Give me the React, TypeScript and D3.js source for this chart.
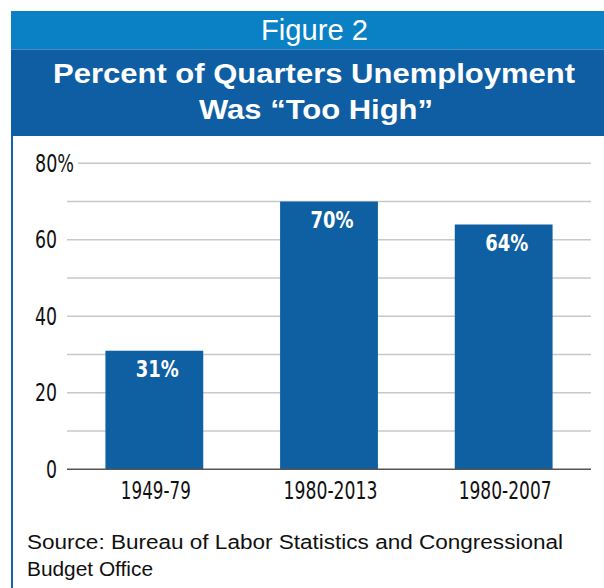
import React from "react";
import * as d3 from "d3";

const categories = ["1949-79", "1980-2013", "1980-2007"];
const values = [31, 70, 64];
const valueLabels = ["31%", "70%", "64%"];
const gridTicks = [0, 10, 20, 30, 40, 50, 60, 70, 80];
const labelTicks = [0, 20, 40, 60, 80];
const titleLines = ["Percent of Quarters Unemployment", "Was \u201CToo High\u201D"];
const figureLabel = "Figure 2";
const sourceLines = ["Source: Bureau of Labor Statistics and Congressional", "Budget Office"];

const W = 604;
const H = 588;
const LIGHT = "#0a80c5";
const DARK = "#0f5ea3";
const BAR = "#0f5fa3";
const NARROW = "'Liberation Sans Narrow', 'DejaVu Sans Condensed', 'Liberation Sans', sans-serif";
const SANS = "'Liberation Sans', Arial, sans-serif";

export default function App() {
  const x = d3
    .scaleBand<string>()
    .domain(categories)
    .range([67, 591])
    .paddingInner(0.44)
    .paddingOuter(0.22);
  const y = d3.scaleLinear().domain([0, 80]).range([469.3, 163.3]);

  const catWidths = [70, 94, 93];

  return (
    <svg
      width={W}
      height={H}
      viewBox={`0 0 ${W} ${H}`}
      style={{ position: "absolute", left: 0, top: 0, background: "#fff" }}
    >
      <rect x={0} y={0} width={W} height={H} fill="#fff" />
      {/* header bands */}
      <rect x={11} y={11} width={W - 11} height={38.5} fill={LIGHT} />
      <rect x={11} y={49.5} width={W - 11} height={86.5} fill={DARK} />
      {/* left border */}
      <rect x={11} y={136} width={2} height={H - 136} fill="#1462a8" />

      <text
        x={314.5}
        y={39.5}
        fill="#fff"
        fontFamily={SANS}
        fontSize={29}
        textAnchor="middle"
        textLength={107}
        lengthAdjust="spacingAndGlyphs"
      >
        {figureLabel}
      </text>
      <text
        x={314}
        y={83}
        fill="#fff"
        fontFamily={SANS}
        fontWeight="bold"
        fontSize={28}
        textAnchor="middle"
        textLength={522}
        lengthAdjust="spacingAndGlyphs"
      >
        {titleLines[0]}
      </text>
      <text
        x={316}
        y={119}
        fill="#fff"
        fontFamily={SANS}
        fontWeight="bold"
        fontSize={28}
        textAnchor="middle"
        textLength={234}
        lengthAdjust="spacingAndGlyphs"
      >
        {titleLines[1]}
      </text>

      {/* gridlines */}
      {gridTicks.map((t) =>
        t === 0 ? null : (
          <line
            key={t}
            x1={t === 80 ? 78 : 67}
            x2={591}
            y1={y(t)}
            y2={y(t)}
            stroke="#c8c8c8"
            strokeWidth={1.4}
          />
        )
      )}

      {/* y labels */}
      {labelTicks.map((t) =>
        t === 80 ? (
          <text
            key={t}
            x={35}
            y={y(t) + 8.5}
            fontFamily={NARROW}
            fontSize={24}
            fill="#111"
            textLength={39}
            lengthAdjust="spacingAndGlyphs"
          >
            {`${t}%`}
          </text>
        ) : (
          <text
            key={t}
            x={57}
            y={y(t) + 8.5}
            fontFamily={NARROW}
            fontSize={24}
            fill="#111"
            textAnchor="end"
            textLength={String(t).length * 11}
            lengthAdjust="spacingAndGlyphs"
          >
            {String(t)}
          </text>
        )
      )}

      {/* bars */}
      {categories.map((c, i) => (
        <rect
          key={c}
          x={x(c)}
          y={y(values[i])}
          width={x.bandwidth()}
          height={y(0) - y(values[i])}
          fill={BAR}
        />
      ))}
      {categories.map((c, i) => (
        <text
          key={c + "-v"}
          x={(x(c) as number) + x.bandwidth() / 2 + 3}
          y={y(values[i]) + 26}
          fill="#fff"
          fontFamily={NARROW}
          fontWeight="bold"
          fontSize={23}
          textAnchor="middle"
          textLength={43}
          lengthAdjust="spacingAndGlyphs"
        >
          {valueLabels[i]}
        </text>
      ))}

      {/* zero axis */}
      <line x1={67} x2={591} y1={y(0)} y2={y(0)} stroke="#555" strokeWidth={1.6} />

      {/* category labels */}
      {categories.map((c, i) => (
        <text
          key={c + "-l"}
          x={(x(c) as number) + x.bandwidth() / 2 + 1.5}
          y={498.5}
          fill="#111"
          fontFamily={NARROW}
          fontSize={24.5}
          textAnchor="middle"
          textLength={catWidths[i]}
          lengthAdjust="spacingAndGlyphs"
        >
          {c}
        </text>
      ))}

      {/* source */}
      <text
        x={27}
        y={549}
        fill="#111"
        fontFamily={SANS}
        fontSize={19.5}
        textLength={536}
        lengthAdjust="spacingAndGlyphs"
      >
        {sourceLines[0]}
      </text>
      <text
        x={27}
        y={576}
        fill="#111"
        fontFamily={SANS}
        fontSize={19.5}
        textLength={126}
        lengthAdjust="spacingAndGlyphs"
      >
        {sourceLines[1]}
      </text>
    </svg>
  );
}
